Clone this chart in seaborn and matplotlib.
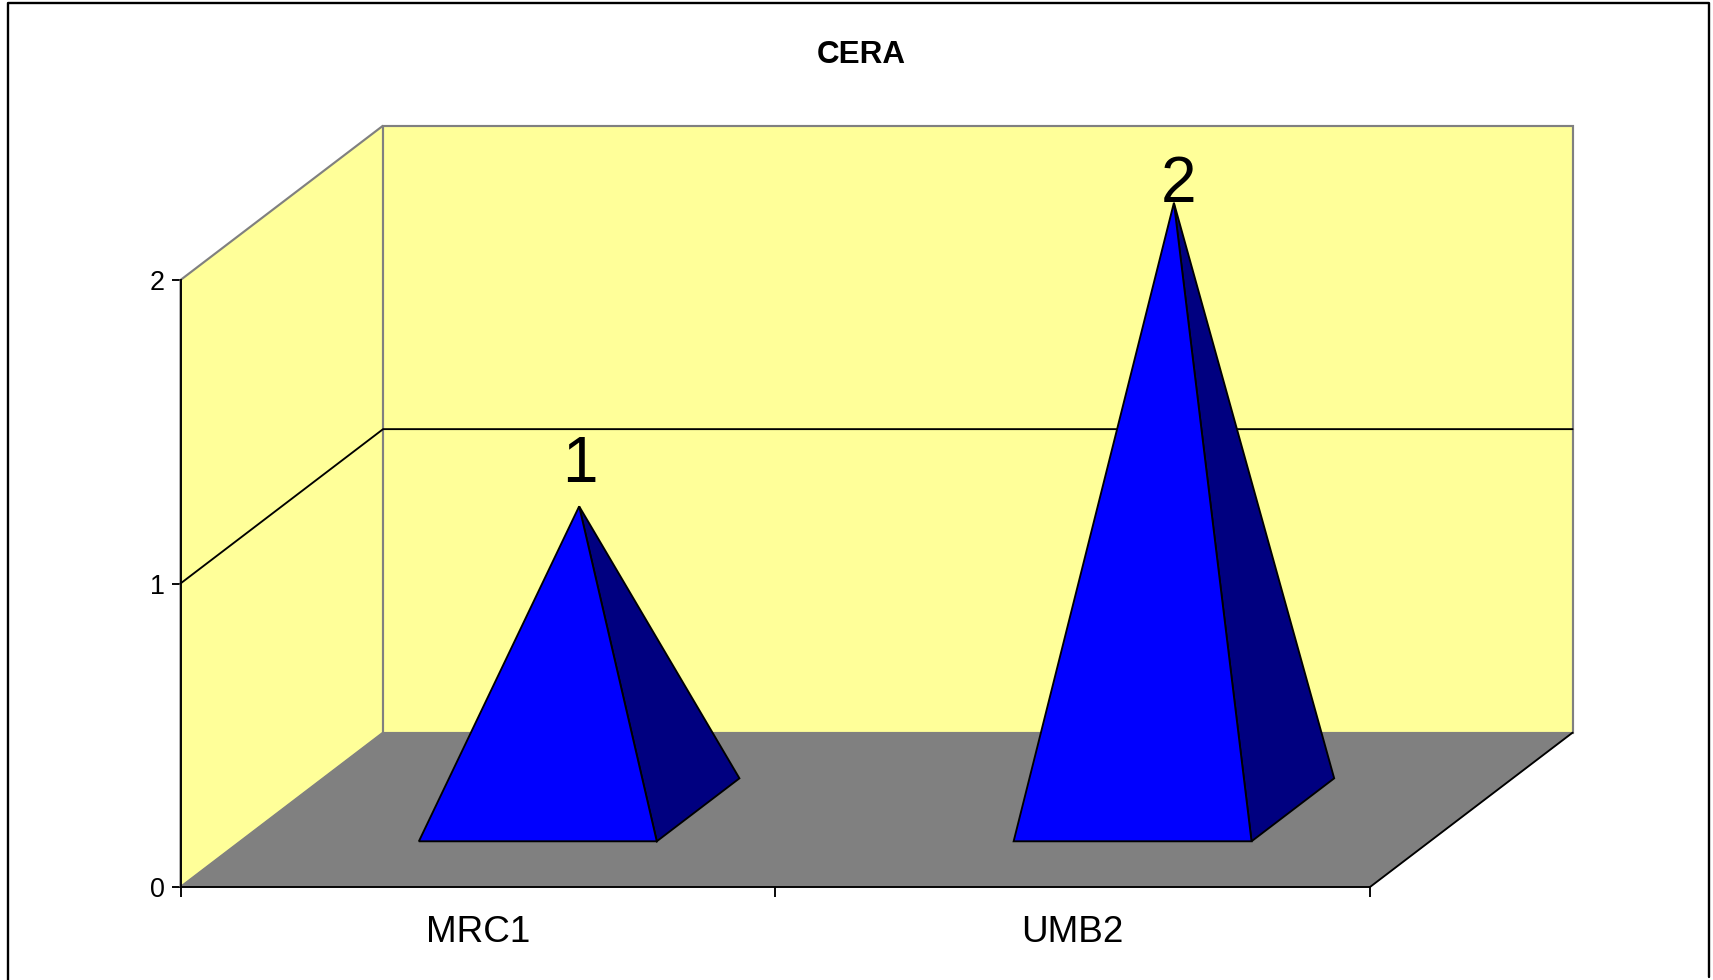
import matplotlib
matplotlib.use("Agg")
import matplotlib.pyplot as plt
from matplotlib.lines import Line2D
import seaborn as sns

# --- data ---
categories = ["MRC1", "UMB2"]
values = [1, 2]
value_ticks = [0, 1, 2]
title = "CERA"

# --- style ---
W, H = 1713, 980
X0, X1, Y0, Y2 = 180.5, 1370.0, 887.0, 280.0
DEPTH_X, DEPTH_Y = 0.3406, 0.5086      # oblique depth, in axis units
D0, D1 = 0.296, 0.704                  # depth span of a pyramid base
GAP = 0.30                             # base inset inside a category
YELLOW, GREY, BLUE, NAVY = "#FFFF99", "#808080", "#0000FF", "#000080"
LW = 1.35
label_offsets = [(1, 24), (5, 1)]      # value label offset in px from apex

sns.set_theme(style="white")
plt.rcParams["font.family"] = ["Liberation Sans", "DejaVu Sans"]

fig = plt.figure(figsize=(W / 100, H / 100), dpi=100, facecolor="white")
ax = fig.add_axes([X0 / W, 1 - Y0 / H, (X1 - X0) / W, (Y0 - Y2) / H])
n = len(categories)
ax.set_xlim(0, n)
ax.set_ylim(0, max(value_ticks))
ax.patch.set_alpha(0)


def proj(x, d, v):
    return x + DEPTH_X * d, v + DEPTH_Y * d


def poly(points, **kw):
    xs, ys = zip(*[proj(*p) for p in points])
    ax.fill(xs, ys, clip_on=False, **kw)


top = max(value_ticks)
# walls and floor
poly([(0, 0, 0), (0, 1, 0), (0, 1, top), (0, 0, top)], facecolor=YELLOW,
     edgecolor=GREY, linewidth=LW + 0.2, zorder=1)
poly([(0, 1, 0), (n, 1, 0), (n, 1, top), (0, 1, top)], facecolor=YELLOW,
     edgecolor=GREY, linewidth=LW + 0.2, zorder=1)
poly([(0, 0, 0), (n, 0, 0), (n, 1, 0), (0, 1, 0)], facecolor=GREY,
     edgecolor=GREY, linewidth=0.6, zorder=2)
a, b = proj(n, 0, 0), proj(n, 1, 0)
ax.plot([a[0], b[0]], [a[1], b[1]], color="black", lw=LW, clip_on=False, zorder=3)

# gridlines on the walls
for v in value_ticks[1:-1]:
    pts = [proj(0, 0, v), proj(0, 1, v), proj(n, 1, v)]
    ax.plot(*zip(*pts), color="black", lw=LW, clip_on=False, zorder=3)

# pyramids
for i, v in enumerate(values):
    x0, x1 = i + GAP, i + 1 - GAP
    apex = (i + 0.5, 0.5, v)
    poly([(x1, D0, 0), (x1, D1, 0), apex], facecolor=NAVY, edgecolor="black",
         linewidth=LW, joinstyle="miter", zorder=4)
    poly([(x0, D0, 0), (x1, D0, 0), apex], facecolor=BLUE, edgecolor="black",
         linewidth=LW, joinstyle="miter", zorder=5)
    ax.annotate(str(v), xy=proj(*apex), xytext=(label_offsets[i][0] * 0.72, label_offsets[i][1] * 0.72),
                textcoords="offset points", ha="center", va="baseline",
                fontsize=46, color="black", zorder=6, annotation_clip=False)

# axes
sns.despine(ax=ax, top=True, right=True)
for s in ("left", "bottom"):
    ax.spines[s].set_color("black")
    ax.spines[s].set_linewidth(LW)
    ax.spines[s].set_zorder(7)
ax.set_yticks(value_ticks)
ax.set_yticklabels([str(v) for v in value_ticks], fontsize=19.4, color="black")
ax.tick_params(axis="y", which="major", left=True, length=6.5, width=LW, color="black", pad=5)
ax.set_xticks(range(n + 1))
ax.set_xticklabels([])
ax.tick_params(axis="x", which="major", bottom=True, length=7, width=LW, color="black")
ax.set_xticks([i + 0.5 for i in range(n)], minor=True)
ax.set_xticklabels(categories, minor=True, fontsize=26.6, color="black")
ax.tick_params(axis="x", which="minor", bottom=False, length=0, pad=20)
for lab in ax.get_xticklabels(minor=True):
    lab.set_x(lab.get_position()[0])
    lab.set_horizontalalignment("center")

fig.text(861.5 / W, 1 - 54.5 / H, title, ha="center", va="center",
         fontsize=22.6, fontweight="bold", color="black")

# outer frame (open at the bottom, cut by the image edge)
fx = [7.5 / W, 7.5 / W, 1708.5 / W, 1708.5 / W]
fy = [0, 1 - 3 / H, 1 - 3 / H, 1 - 977 / H]
fig.add_artist(Line2D(fx, fy, color="black", lw=1.7, transform=fig.transFigure))

fig.savefig("out.png", dpi=100)
